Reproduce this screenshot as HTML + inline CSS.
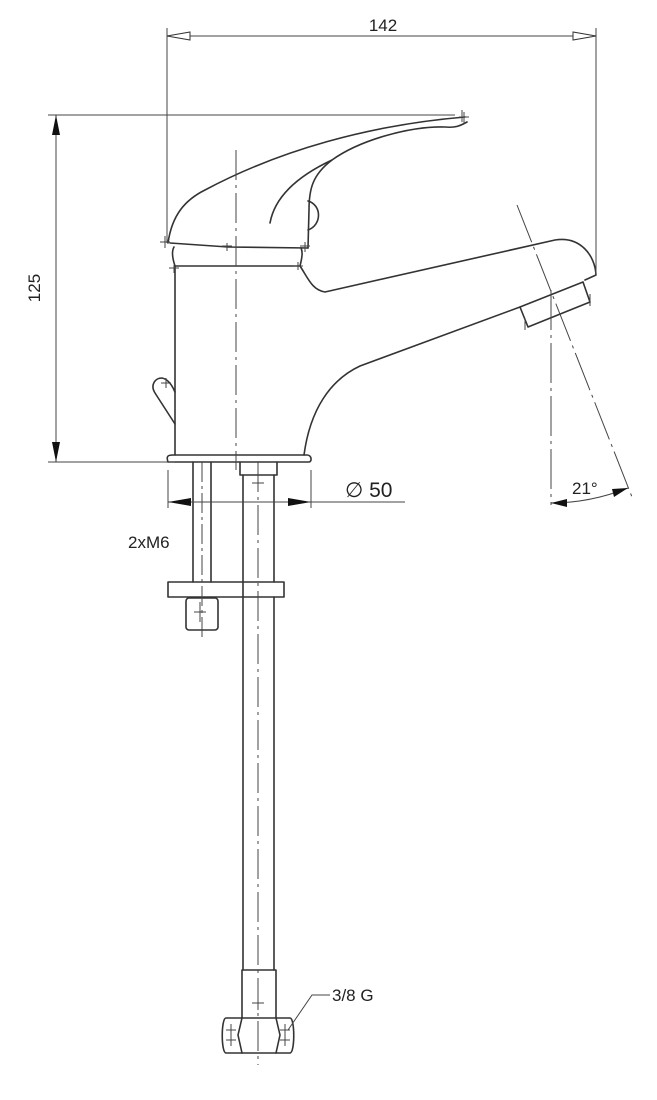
<!DOCTYPE html>
<html><head><meta charset="utf-8"><style>
html,body{margin:0;padding:0;background:#fff;}
svg{display:block;}
text{font-family:"Liberation Sans",sans-serif;fill:#222;}
</style></head><body>
<svg width="657" height="1100" viewBox="0 0 657 1100" xmlns="http://www.w3.org/2000/svg">
<g fill="none" stroke="#333" stroke-width="1.6" stroke-linejoin="round" stroke-linecap="round">
<!-- lever -->
<path d="M168,243 C172,215 185,200 205,190 C280,150 370,125 465,117"/>
<path d="M467,122 C460,126 455,128 445,127 C410,126 360,140 332,160 C312,175 309,190 309,210 L308,248"/>
<path d="M270,223 C275,195 300,175 332,160"/>
<path d="M308,201 C322,205 322,225 308,230"/>
<path d="M170,243 L228,247 L308,248"/>
<!-- body -->
<path d="M174,247 C171,252 173,260 175,266 L300,266 C302,258 303,252 301,248"/>
<path d="M175,266 L175,455"/>
<path d="M300,266 C308,278 312,290 325,292 L555,240 C580,236 595,255 596,275 L585,280"/>
<path d="M520,307 L360,366 C330,380 310,410 304,455"/>
<path d="M583,282 L590,302 L528,327 L520,307 L583,282"/>
<path d="M168,462 C166,456 168,455 173,455 L307,455 C312,455 312,462 309,462 L168,462"/>
<path d="M175,424 L155,393 C150,385 155,378 162,378 C168,379 172,385 175,392"/>
<!-- shanks -->
<path d="M193,462 L193,582 M211,462 L211,582"/>
<path d="M243,475 L243,970 M274,475 L274,582 M274,597 L274,970"/>
<path d="M240,462 L240,475 L277,475 L277,462"/>
<rect x="168" y="582" width="116" height="15"/>
<rect x="186" y="598" width="32" height="32" rx="3"/>
<path d="M242,970 L242,1018 M276,970 L276,1018 M242,970 L276,970"/>
<path d="M226,1018 L290,1018 C295,1018 295,1053 290,1053 L226,1053 C221,1053 221,1018 226,1018 Z"/>
<path d="M242,1018 L238,1035 L242,1053 M276,1018 L280,1035 L276,1053"/>
</g>
<g fill="none" stroke="#444" stroke-width="1">
<!-- crosses -->
<path d="M258,476v14M252,483h12 M200,602v20M194,612h12 M258,996v14M252,1003h12 M231,1024v22M226,1030h10M226,1040h10 M285,1024v22M280,1030h10M280,1040h10 M161,383h10M166,378v10 M462,110v12M464,112v12M459,117h10 M165,236v12M160,242h10 M227,243v8M222,246h10 M305,242v10M300,246h10 M174,265v8M169,268h10 M298,262v8M293,266h10 M525,318v12 M590,294v12"/>
<!-- dim lines -->
<path d="M167,28V243 M596,28V275 M167,36H596"/>
<path d="M48,115H455 M56,115V462 M48,462H175"/>
<path d="M168,470V508 M311,470V508 M168,502H405"/>
<path d="M236,150V470" stroke-dasharray="30,5,3,5"/>
<path d="M258,462V1065" stroke-dasharray="30,5,3,5"/>
<path d="M202,462V640" stroke-dasharray="20,4,3,4"/>
<path d="M517,205L632,497" stroke-dasharray="40,5,3,5"/>
<path d="M551,290V505" stroke-dasharray="40,5,3,5"/>
<path d="M551,503 Q590,503 628,488"/>
<path d="M330,995H312L288,1030"/>
</g>
<g fill="#fff" stroke="#333" stroke-width="1">
<path d="M167,36 L190,32 L190,40 Z"/>
<path d="M596,36 L573,32 L573,40 Z"/>
</g>
<g fill="#111">
<path d="M56,115 L52,135 L60,135 Z"/>
<path d="M56,462 L52,442 L60,442 Z"/>
<path d="M168,502 L191,498 L191,506 Z"/>
<path d="M311,502 L288,498 L288,506 Z"/>
<path d="M551,503 L567,499 L567,507 Z"/>
<path d="M628,488 L612,489 L614,497 Z"/>
</g>
<text x="383" y="31" font-size="17" text-anchor="middle">142</text>
<text transform="translate(40,288) rotate(-90)" font-size="17" text-anchor="middle">125</text>
<text x="345" y="497" font-size="21" font-family="Liberation Serif,serif">∅ 50</text>
<text x="128" y="548" font-size="17">2xM6</text>
<text x="332" y="1001" font-size="17">3/8 G</text>
<text x="572" y="494" font-size="17">21°</text>
</svg>
</body></html>
